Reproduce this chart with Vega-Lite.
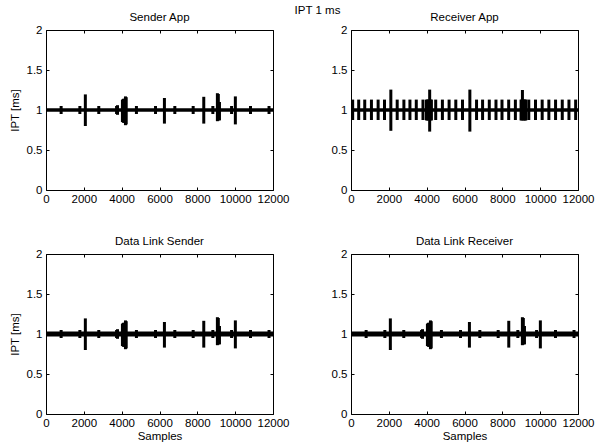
{
  "$schema": "https://vega.github.io/schema/vega-lite/v6.json",
  "padding": {"left": 8, "top": 4, "right": 3, "bottom": 3},
  "background": "white",
  "title": {"text": "IPT 1 ms", "font": "Liberation Sans", "fontSize": 11.5, "fontWeight": "normal", "anchor": "middle", "dx": 16, "offset": -5, "color": "black"},
  "columns": 2,
  "bounds": "flush",
  "spacing": {"row": 64, "column": 78},
  "config": {
    "font": "Liberation Sans",
    "view": {"stroke": "black", "strokeWidth": 1},
    "axis": {"domain": false, "grid": false, "tickColor": "black", "tickSize": -3, "labelFlush": false, "labelFont": "Liberation Sans", "titleFont": "Liberation Sans", "labelColor": "black", "labelFontSize": 11.5, "labelOverlap": false, "titleFontSize": 11.5, "titleFontWeight": "normal", "titleColor": "black"},
    "title": {"font": "Liberation Sans", "fontSize": 11.5, "fontWeight": "normal", "color": "black", "offset": 1}
  },
  "datasets": {
    "base": [{"x0": 0, "x1": 12000, "y": 1}],
    "sender": [
      {"x": 800, "lo": 0.95, "hi": 1.05}, {"x": 1790, "lo": 0.95, "hi": 1.05}, {"x": 2080, "lo": 0.8, "hi": 1.195},
      {"x": 2790, "lo": 0.95, "hi": 1.05}, {"x": 3730, "lo": 0.95, "hi": 1.05}, {"x": 3780, "lo": 0.94, "hi": 1.06},
      {"x": 4040, "lo": 0.85, "hi": 1.13}, {"x": 4090, "lo": 0.84, "hi": 1.14}, {"x": 4140, "lo": 0.84, "hi": 1.14},
      {"x": 4200, "lo": 0.81, "hi": 1.17}, {"x": 4240, "lo": 0.82, "hi": 1.16}, {"x": 4780, "lo": 0.95, "hi": 1.05},
      {"x": 5790, "lo": 0.95, "hi": 1.05}, {"x": 6260, "lo": 0.83, "hi": 1.15}, {"x": 6810, "lo": 0.95, "hi": 1.05},
      {"x": 7780, "lo": 0.95, "hi": 1.05}, {"x": 8340, "lo": 0.83, "hi": 1.165}, {"x": 8820, "lo": 0.95, "hi": 1.05},
      {"x": 9060, "lo": 0.86, "hi": 1.21}, {"x": 9110, "lo": 0.87, "hi": 1.2}, {"x": 9170, "lo": 0.87, "hi": 1.1},
      {"x": 9810, "lo": 0.95, "hi": 1.05}, {"x": 10010, "lo": 0.82, "hi": 1.17}, {"x": 10810, "lo": 0.95, "hi": 1.05},
      {"x": 11790, "lo": 0.95, "hi": 1.05}
    ],
    "receiver": [
      {"x": 88, "lo": 0.875, "hi": 1.13}, {"x": 407, "lo": 0.875, "hi": 1.13}, {"x": 726, "lo": 0.875, "hi": 1.13},
      {"x": 1080, "lo": 0.875, "hi": 1.13}, {"x": 1434, "lo": 0.875, "hi": 1.13}, {"x": 1770, "lo": 0.875, "hi": 1.13},
      {"x": 2106, "lo": 0.74, "hi": 1.255}, {"x": 2442, "lo": 0.875, "hi": 1.13}, {"x": 2796, "lo": 0.875, "hi": 1.13},
      {"x": 3115, "lo": 0.875, "hi": 1.13}, {"x": 3451, "lo": 0.875, "hi": 1.13}, {"x": 3805, "lo": 0.875, "hi": 1.13},
      {"x": 3990, "lo": 0.87, "hi": 1.13}, {"x": 4040, "lo": 0.87, "hi": 1.13}, {"x": 4090, "lo": 0.87, "hi": 1.13},
      {"x": 4159, "lo": 0.73, "hi": 1.255}, {"x": 4210, "lo": 0.87, "hi": 1.13}, {"x": 4250, "lo": 0.87, "hi": 1.13},
      {"x": 4478, "lo": 0.875, "hi": 1.13}, {"x": 4832, "lo": 0.875, "hi": 1.13}, {"x": 5186, "lo": 0.875, "hi": 1.13},
      {"x": 5540, "lo": 0.875, "hi": 1.13}, {"x": 5894, "lo": 0.875, "hi": 1.13}, {"x": 6283, "lo": 0.73, "hi": 1.255},
      {"x": 6637, "lo": 0.875, "hi": 1.13}, {"x": 6956, "lo": 0.875, "hi": 1.13}, {"x": 7310, "lo": 0.875, "hi": 1.13},
      {"x": 7664, "lo": 0.875, "hi": 1.13}, {"x": 7982, "lo": 0.875, "hi": 1.13}, {"x": 8336, "lo": 0.875, "hi": 1.13},
      {"x": 8690, "lo": 0.875, "hi": 1.13}, {"x": 8990, "lo": 0.87, "hi": 1.13}, {"x": 9030, "lo": 0.87, "hi": 1.13},
      {"x": 9062, "lo": 0.88, "hi": 1.25}, {"x": 9100, "lo": 0.87, "hi": 1.13}, {"x": 9150, "lo": 0.87, "hi": 1.13},
      {"x": 9200, "lo": 0.87, "hi": 1.13}, {"x": 9240, "lo": 0.87, "hi": 1.13}, {"x": 9398, "lo": 0.875, "hi": 1.13},
      {"x": 9752, "lo": 0.875, "hi": 1.13}, {"x": 10106, "lo": 0.875, "hi": 1.13}, {"x": 10460, "lo": 0.875, "hi": 1.13},
      {"x": 10814, "lo": 0.875, "hi": 1.13}, {"x": 11168, "lo": 0.875, "hi": 1.13}, {"x": 11522, "lo": 0.875, "hi": 1.13},
      {"x": 11876, "lo": 0.875, "hi": 1.13}
    ],
    "dlsender": [
      {"x": 800, "lo": 0.95, "hi": 1.05}, {"x": 1790, "lo": 0.95, "hi": 1.05}, {"x": 2080, "lo": 0.8, "hi": 1.195},
      {"x": 2790, "lo": 0.95, "hi": 1.05}, {"x": 3730, "lo": 0.95, "hi": 1.05}, {"x": 3780, "lo": 0.94, "hi": 1.06},
      {"x": 4040, "lo": 0.85, "hi": 1.13}, {"x": 4090, "lo": 0.84, "hi": 1.14}, {"x": 4140, "lo": 0.84, "hi": 1.14},
      {"x": 4200, "lo": 0.81, "hi": 1.17}, {"x": 4240, "lo": 0.82, "hi": 1.16}, {"x": 4780, "lo": 0.95, "hi": 1.05},
      {"x": 5790, "lo": 0.95, "hi": 1.05}, {"x": 6260, "lo": 0.83, "hi": 1.15}, {"x": 6810, "lo": 0.95, "hi": 1.05},
      {"x": 7780, "lo": 0.95, "hi": 1.05}, {"x": 8340, "lo": 0.83, "hi": 1.165}, {"x": 8820, "lo": 0.95, "hi": 1.05},
      {"x": 9060, "lo": 0.86, "hi": 1.21}, {"x": 9110, "lo": 0.87, "hi": 1.2}, {"x": 9170, "lo": 0.87, "hi": 1.1},
      {"x": 9810, "lo": 0.95, "hi": 1.05}, {"x": 10010, "lo": 0.82, "hi": 1.17}, {"x": 10810, "lo": 0.95, "hi": 1.05},
      {"x": 11790, "lo": 0.95, "hi": 1.05}
    ],
    "dlreceiver": [
      {"x": 800, "lo": 0.95, "hi": 1.05}, {"x": 1790, "lo": 0.95, "hi": 1.05}, {"x": 2080, "lo": 0.8, "hi": 1.195},
      {"x": 2790, "lo": 0.95, "hi": 1.05}, {"x": 3730, "lo": 0.95, "hi": 1.05}, {"x": 3780, "lo": 0.94, "hi": 1.06},
      {"x": 4040, "lo": 0.85, "hi": 1.13}, {"x": 4090, "lo": 0.84, "hi": 1.14}, {"x": 4140, "lo": 0.84, "hi": 1.14},
      {"x": 4200, "lo": 0.81, "hi": 1.17}, {"x": 4240, "lo": 0.82, "hi": 1.16}, {"x": 4780, "lo": 0.95, "hi": 1.05},
      {"x": 5790, "lo": 0.95, "hi": 1.05}, {"x": 6260, "lo": 0.83, "hi": 1.15}, {"x": 6810, "lo": 0.95, "hi": 1.05},
      {"x": 7780, "lo": 0.95, "hi": 1.05}, {"x": 8340, "lo": 0.83, "hi": 1.165}, {"x": 8820, "lo": 0.95, "hi": 1.05},
      {"x": 9060, "lo": 0.86, "hi": 1.21}, {"x": 9110, "lo": 0.87, "hi": 1.2}, {"x": 9170, "lo": 0.87, "hi": 1.1},
      {"x": 9810, "lo": 0.95, "hi": 1.05}, {"x": 10010, "lo": 0.82, "hi": 1.17}, {"x": 10810, "lo": 0.95, "hi": 1.05},
      {"x": 11790, "lo": 0.95, "hi": 1.05}
    ]
  },
  "concat": [
    {
      "title": {"text": "Sender App", "font": "Liberation Sans", "fontWeight": "normal", "fontSize": 11.5, "offset": 1},
      "width": 227, "height": 160,
      "layer": [
        {"data": {"name": "base"}, "mark": {"type": "rule", "strokeWidth": 3.5, "color": "black"},
         "encoding": {
           "x": {"field": "x0", "type": "quantitative", "scale": {"domain": [0, 12000], "nice": false}, "axis": {"orient": "bottom", "title": null, "values": [0, 2000, 4000, 6000, 8000, 10000, 12000], "format": "d", "labelPadding": 6}},
           "x2": {"field": "x1"},
           "y": {"field": "y", "type": "quantitative", "scale": {"domain": [0, 2], "nice": false}, "axis": {"orient": "left", "title": "IPT [ms]", "values": [0, 0.5, 1, 1.5, 2], "format": "~g", "labelPadding": 7, "titlePadding": 6}}
         }},
        {"data": {"name": "sender"}, "mark": {"type": "rule", "strokeWidth": 3, "color": "black"},
         "encoding": {
           "x": {"field": "x", "type": "quantitative", "axis": {"orient": "top", "title": null, "labels": false, "values": [0, 2000, 4000, 6000, 8000, 10000, 12000]}},
           "y": {"field": "lo", "type": "quantitative", "axis": {"orient": "right", "title": null, "labels": false, "values": [0, 0.5, 1, 1.5, 2]}},
           "y2": {"field": "hi"}
         }}
      ],
      "resolve": {"axis": {"x": "independent", "y": "independent"}}
    },
    {
      "title": {"text": "Receiver App", "font": "Liberation Sans", "fontWeight": "normal", "fontSize": 11.5, "offset": 1},
      "width": 227, "height": 160,
      "layer": [
        {"data": {"name": "base"}, "mark": {"type": "rule", "strokeWidth": 3.5, "color": "black"},
         "encoding": {
           "x": {"field": "x0", "type": "quantitative", "scale": {"domain": [0, 12000], "nice": false}, "axis": {"orient": "bottom", "title": null, "values": [0, 2000, 4000, 6000, 8000, 10000, 12000], "format": "d", "labelPadding": 6}},
           "x2": {"field": "x1"},
           "y": {"field": "y", "type": "quantitative", "scale": {"domain": [0, 2], "nice": false}, "axis": {"orient": "left", "title": null, "values": [0, 0.5, 1, 1.5, 2], "format": "~g", "labelPadding": 7}}
         }},
        {"data": {"name": "receiver"}, "mark": {"type": "rule", "strokeWidth": 3, "color": "black"},
         "encoding": {
           "x": {"field": "x", "type": "quantitative", "axis": {"orient": "top", "title": null, "labels": false, "values": [0, 2000, 4000, 6000, 8000, 10000, 12000]}},
           "y": {"field": "lo", "type": "quantitative", "axis": {"orient": "right", "title": null, "labels": false, "values": [0, 0.5, 1, 1.5, 2]}},
           "y2": {"field": "hi"}
         }}
      ],
      "resolve": {"axis": {"x": "independent", "y": "independent"}}
    },
    {
      "title": {"text": "Data Link Sender", "font": "Liberation Sans", "fontWeight": "normal", "fontSize": 11.5, "offset": 1},
      "width": 227, "height": 160,
      "layer": [
        {"data": {"name": "base"}, "mark": {"type": "rule", "strokeWidth": 5, "color": "black"},
         "encoding": {
           "x": {"field": "x0", "type": "quantitative", "scale": {"domain": [0, 12000], "nice": false}, "axis": {"orient": "bottom", "title": "Samples", "values": [0, 2000, 4000, 6000, 8000, 10000, 12000], "format": "d", "labelPadding": 6, "titlePadding": 2}},
           "x2": {"field": "x1"},
           "y": {"field": "y", "type": "quantitative", "scale": {"domain": [0, 2], "nice": false}, "axis": {"orient": "left", "title": "IPT [ms]", "values": [0, 0.5, 1, 1.5, 2], "format": "~g", "labelPadding": 7, "titlePadding": 6}}
         }},
        {"data": {"name": "dlsender"}, "mark": {"type": "rule", "strokeWidth": 3, "color": "black"},
         "encoding": {
           "x": {"field": "x", "type": "quantitative", "axis": {"orient": "top", "title": null, "labels": false, "values": [0, 2000, 4000, 6000, 8000, 10000, 12000]}},
           "y": {"field": "lo", "type": "quantitative", "axis": {"orient": "right", "title": null, "labels": false, "values": [0, 0.5, 1, 1.5, 2]}},
           "y2": {"field": "hi"}
         }}
      ],
      "resolve": {"axis": {"x": "independent", "y": "independent"}}
    },
    {
      "title": {"text": "Data Link Receiver", "font": "Liberation Sans", "fontWeight": "normal", "fontSize": 11.5, "offset": 1},
      "width": 227, "height": 160,
      "layer": [
        {"data": {"name": "base"}, "mark": {"type": "rule", "strokeWidth": 5, "color": "black"},
         "encoding": {
           "x": {"field": "x0", "type": "quantitative", "scale": {"domain": [0, 12000], "nice": false}, "axis": {"orient": "bottom", "title": "Samples", "values": [0, 2000, 4000, 6000, 8000, 10000, 12000], "format": "d", "labelPadding": 6, "titlePadding": 2}},
           "x2": {"field": "x1"},
           "y": {"field": "y", "type": "quantitative", "scale": {"domain": [0, 2], "nice": false}, "axis": {"orient": "left", "title": null, "values": [0, 0.5, 1, 1.5, 2], "format": "~g", "labelPadding": 7}}
         }},
        {"data": {"name": "dlreceiver"}, "mark": {"type": "rule", "strokeWidth": 3, "color": "black"},
         "encoding": {
           "x": {"field": "x", "type": "quantitative", "axis": {"orient": "top", "title": null, "labels": false, "values": [0, 2000, 4000, 6000, 8000, 10000, 12000]}},
           "y": {"field": "lo", "type": "quantitative", "axis": {"orient": "right", "title": null, "labels": false, "values": [0, 0.5, 1, 1.5, 2]}},
           "y2": {"field": "hi"}
         }}
      ],
      "resolve": {"axis": {"x": "independent", "y": "independent"}}
    }
  ]
}
